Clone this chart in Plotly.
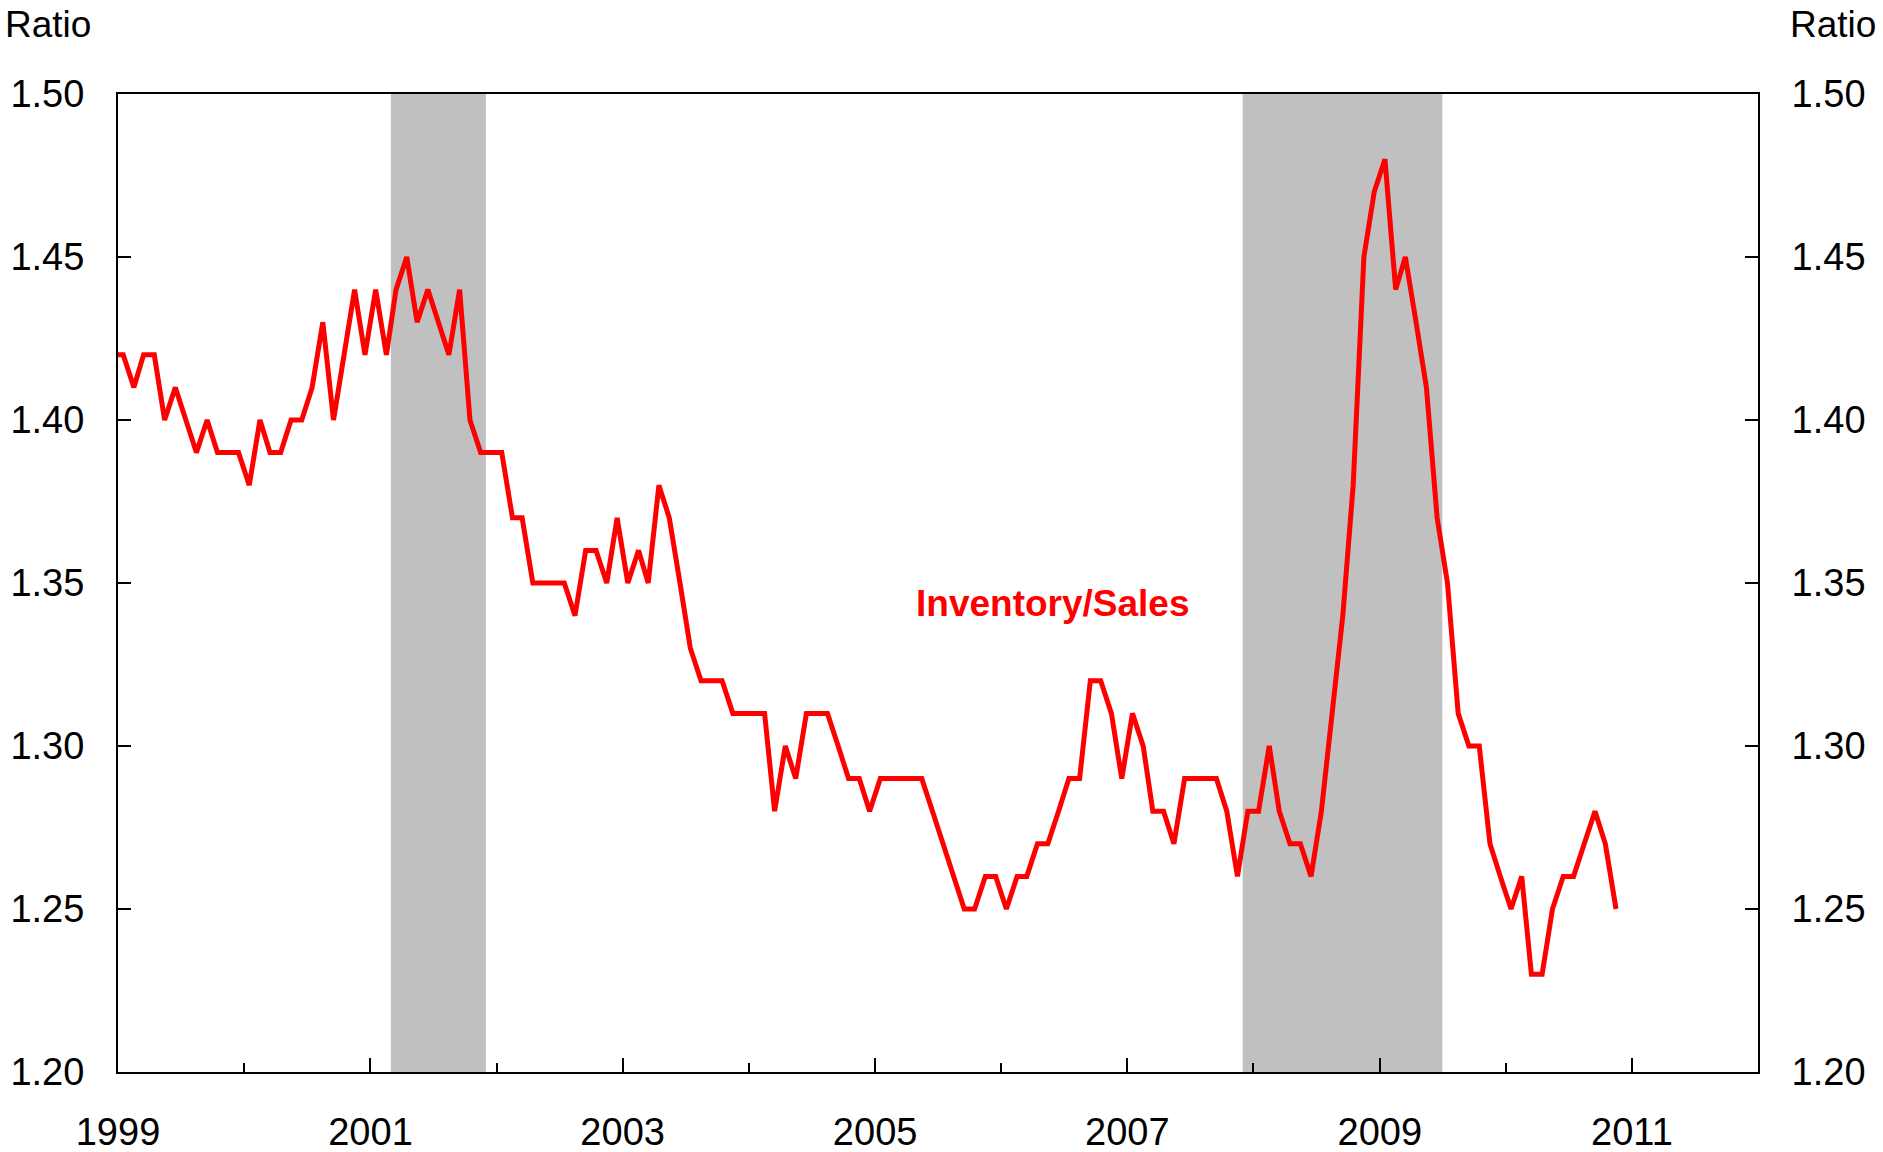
import pandas as pd
import plotly.graph_objects as go

# Monthly total business inventory/sales ratio, Dec 1998 .. Nov 2010
start_month = "1998-12-01"
ratio = [
    1.42,
    1.42, 1.41, 1.42, 1.42, 1.40, 1.41, 1.40, 1.39, 1.40, 1.39, 1.39, 1.39,  # 1999
    1.38, 1.40, 1.39, 1.39, 1.40, 1.40, 1.41, 1.43, 1.40, 1.42, 1.44, 1.42,  # 2000
    1.44, 1.42, 1.44, 1.45, 1.43, 1.44, 1.43, 1.42, 1.44, 1.40, 1.39, 1.39,  # 2001
    1.39, 1.37, 1.37, 1.35, 1.35, 1.35, 1.35, 1.34, 1.36, 1.36, 1.35, 1.37,  # 2002
    1.35, 1.36, 1.35, 1.38, 1.37, 1.35, 1.33, 1.32, 1.32, 1.32, 1.31, 1.31,  # 2003
    1.31, 1.31, 1.28, 1.30, 1.29, 1.31, 1.31, 1.31, 1.30, 1.29, 1.29, 1.28,  # 2004
    1.29, 1.29, 1.29, 1.29, 1.29, 1.28, 1.27, 1.26, 1.25, 1.25, 1.26, 1.26,  # 2005
    1.25, 1.26, 1.26, 1.27, 1.27, 1.28, 1.29, 1.29, 1.32, 1.32, 1.31, 1.29,  # 2006
    1.31, 1.30, 1.28, 1.28, 1.27, 1.29, 1.29, 1.29, 1.29, 1.28, 1.26, 1.28,  # 2007
    1.28, 1.30, 1.28, 1.27, 1.27, 1.26, 1.28, 1.31, 1.34, 1.38, 1.45, 1.47,  # 2008
    1.48, 1.44, 1.45, 1.43, 1.41, 1.37, 1.35, 1.31, 1.30, 1.30, 1.27, 1.26,  # 2009
    1.25, 1.26, 1.23, 1.23, 1.25, 1.26, 1.26, 1.27, 1.28, 1.27, 1.25,        # 2010
]
recessions = [("2001-03-01", "2001-12-01"), ("2007-12-01", "2009-07-01")]
series_label = "Inventory/Sales"
axis_title = "Ratio"
y_ticks = [1.20, 1.25, 1.30, 1.35, 1.40, 1.45, 1.50]

dates = pd.date_range(start_month, periods=len(ratio), freq="MS") + pd.Timedelta(days=15)

FONT = "Arial, Liberation Sans, Helvetica, sans-serif"
fig = go.Figure()

fig.add_trace(go.Scatter(
    x=dates, y=ratio, mode="lines",
    line=dict(color="#FF0000", width=5),
    showlegend=False, hoverinfo="x+y",
))
# invisible trace for the right axis
fig.add_trace(go.Scatter(x=[dates[1]], y=[ratio[1]], yaxis="y2", mode="markers",
                         marker=dict(opacity=0), showlegend=False, hoverinfo="skip"))

for x0, x1 in recessions:
    fig.add_shape(type="rect", xref="x", yref="paper", x0=x0, x1=x1, y0=0, y1=1,
                  fillcolor="#C0C0C0", line=dict(width=0), layer="below")

fig.add_annotation(x="2006-05-31", y=1.3436, xref="x", yref="y", text="<b>%s</b>" % series_label,
                   showarrow=False, font=dict(color="#FF0000", size=37, family=FONT),
                   xanchor="center", yanchor="middle")
fig.add_annotation(x=-0.0701, y=1.0706, xref="paper", yref="paper", text=axis_title,
                   showarrow=False, font=dict(size=37, family=FONT, color="black"),
                   xanchor="left", yanchor="middle")
fig.add_annotation(x=1.0732, y=1.0706, xref="paper", yref="paper", text=axis_title,
                   showarrow=False, font=dict(size=37, family=FONT, color="black"),
                   xanchor="right", yanchor="middle")

yax = dict(range=[1.20, 1.50], tickvals=y_ticks, tickformat=".2f",
           ticks="inside", ticklen=13, tickwidth=2, tickcolor="black",
           showline=True, linewidth=2, linecolor="black", showgrid=False, zeroline=False,
           automargin=False,
           tickfont=dict(size=38, family=FONT, color="black"), ticklabelstandoff=24)

fig.update_layout(
    width=1883, height=1152,
    margin=dict(l=118, r=125, t=94, b=80),
    paper_bgcolor="white", plot_bgcolor="white",
    font=dict(family=FONT, color="black"),
    xaxis=dict(type="date", range=["1999-01-01", "2012-01-01"],
               tick0="1999-01-01", dtick="M24", tickformat="%Y",
               ticks="inside", ticklen=14, tickwidth=2, tickcolor="black",
               minor=dict(ticks="inside", dtick="M12", tick0="1999-01-01", ticklen=9,
                          tickwidth=2, tickcolor="black", showgrid=False),
               showline=True, linewidth=2, linecolor="black", mirror=True,
               showgrid=False, zeroline=False, automargin=False,
               tickfont=dict(size=38, family=FONT, color="black"), ticklabelstandoff=25),
    yaxis=yax,
    yaxis2=dict(yax, overlaying="y", side="right"),
)

fig.write_html("out.html", config={"displayModeBar": False},
               post_script="document.body.style.margin='0';document.body.style.overflow='hidden';")
